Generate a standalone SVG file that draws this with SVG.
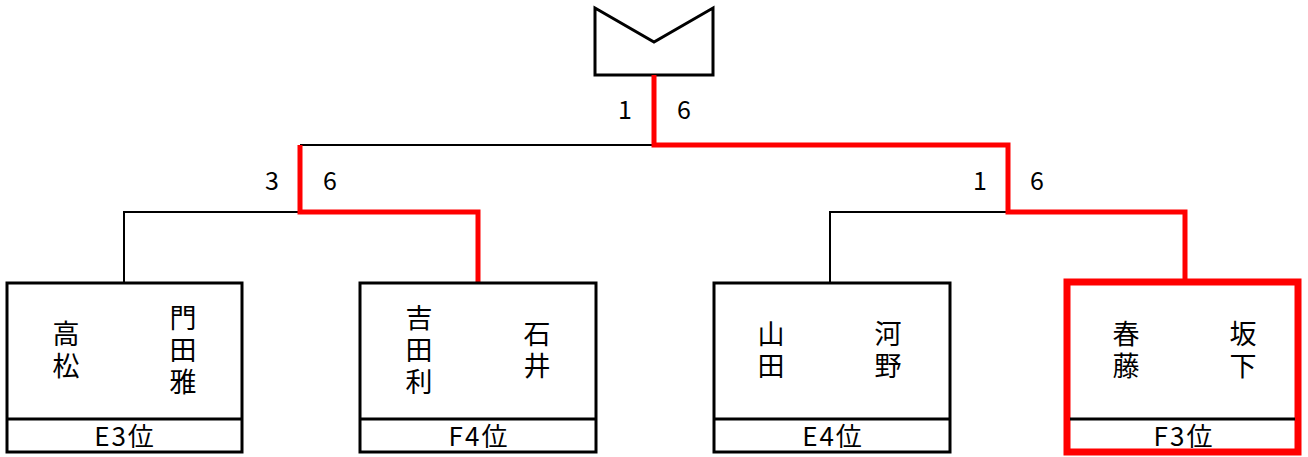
<svg xmlns="http://www.w3.org/2000/svg" width="1308" height="457" viewBox="0 0 1308 457">
<style>
.bk{fill:none;stroke:#000;stroke-width:2}
.rd{fill:none;stroke:#f00;stroke-width:5}
.box{fill:#fff;stroke:#000;stroke-width:3}
.rbox{fill:#fff;stroke:#f00;stroke-width:7}
.div{stroke:#000;stroke-width:3}
.n{font-family:"Noto Sans CJK JP","Noto Sans",sans-serif;font-size:27px;text-anchor:middle;fill:#000;writing-mode:vertical-rl;letter-spacing:5px}
.s{font-family:"Noto Sans CJK JP","Noto Sans",sans-serif;font-size:26px;text-anchor:middle;fill:#000;letter-spacing:2px}
.c{font-family:"Noto Sans CJK JP","Noto Sans",sans-serif;font-size:25px;text-anchor:middle;fill:#000}
</style>
<rect width="1308" height="457" fill="#fff"/>
<g id="trophy">
<path d="M595,8 L654,42 L713,8 L713,75 L595,75 Z" fill="#fff" stroke="#000" stroke-width="3"/>
</g>
<g id="connectors">
<path class="bk" d="M654,145 H300"/>
<path class="bk" d="M300,212 H124 V283"/>
<path class="bk" d="M1008,212 H830 V283"/>
<path class="rd" d="M654,75 V145 H1008 V212 H1185 V282"/>
<path class="rd" d="M300,145 V212 H478 V283"/>
</g>
<g id="scores">
<text class="c" x="625" y="119">1</text>
<text class="c" x="684" y="119">6</text>
<text class="c" x="272" y="190">3</text>
<text class="c" x="330" y="190">6</text>
<text class="c" x="980" y="190">1</text>
<text class="c" x="1037" y="190">6</text>
</g>
<g id="team1">
<rect class="box" x="7" y="283" width="235" height="169"/>
<line class="div" x1="7" y1="419" x2="242" y2="419"/>
<text class="n" x="66" y="352">高松</text>
<text class="n" x="183" y="352">門田雅</text>
<text class="s" x="125" y="446">E3位</text>
</g>
<g id="team2">
<rect class="box" x="360" y="283" width="236" height="169"/>
<line class="div" x1="360" y1="419" x2="596" y2="419"/>
<text class="n" x="419" y="352">吉田利</text>
<text class="n" x="537" y="352">石井</text>
<text class="s" x="479" y="446">F4位</text>
</g>
<g id="team3">
<rect class="box" x="714" y="283" width="236" height="169"/>
<line class="div" x1="714" y1="419" x2="950" y2="419"/>
<text class="n" x="771" y="352">山田</text>
<text class="n" x="888" y="352">河野</text>
<text class="s" x="833" y="446">E4位</text>
</g>
<g id="team4">
<rect class="rbox" x="1067" y="282" width="231" height="170"/>
<line class="div" x1="1070" y1="419" x2="1295" y2="419"/>
<text class="n" x="1126" y="352">春藤</text>
<text class="n" x="1243" y="352">坂下</text>
<text class="s" x="1184" y="446">F3位</text>
</g>
</svg>
